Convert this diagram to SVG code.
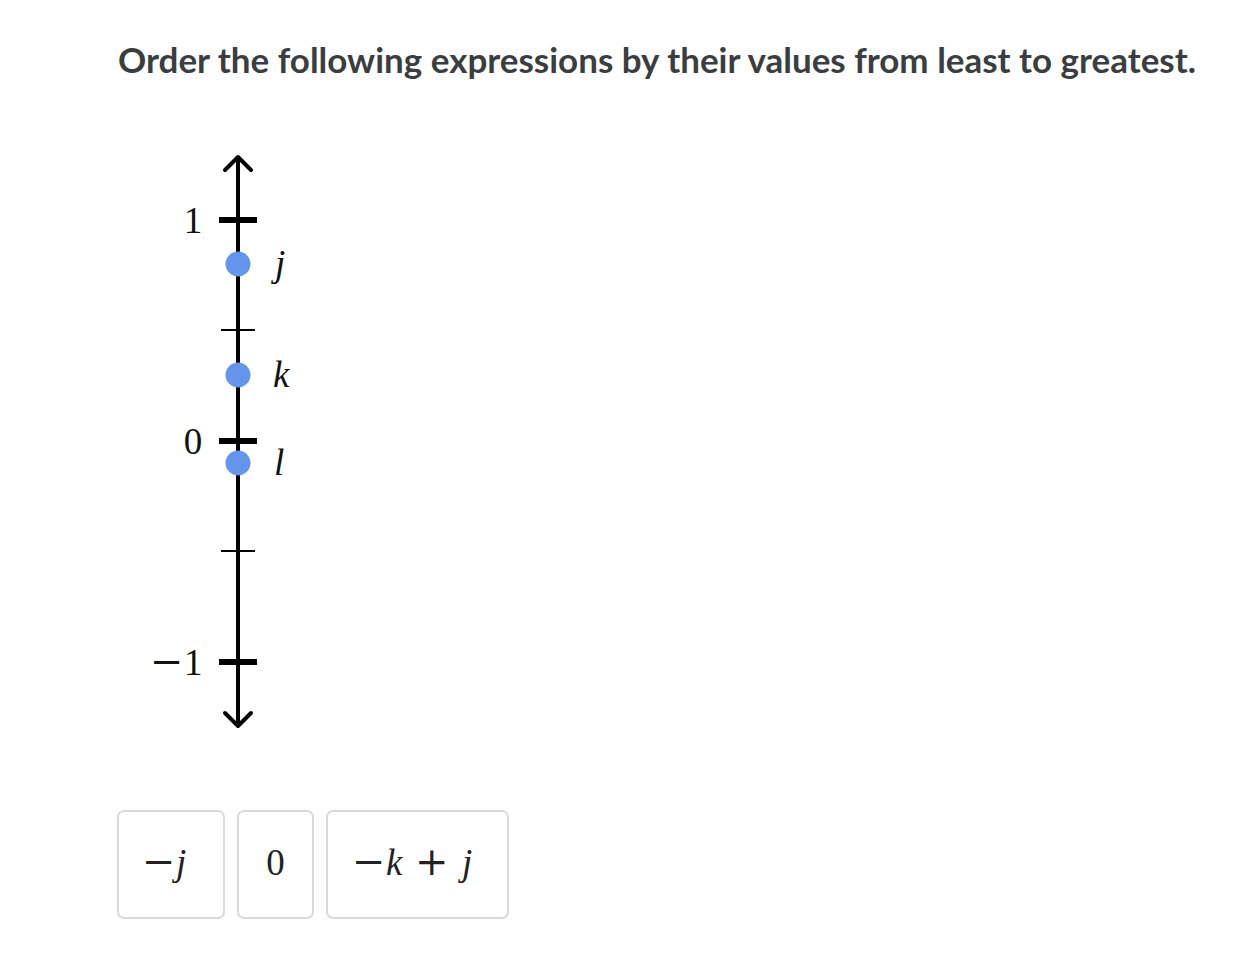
<svg xmlns="http://www.w3.org/2000/svg" width="1250" height="960" viewBox="0 0 1250 960">
<style>
.title{font-family:Lato,"Liberation Sans",sans-serif;font-weight:bold;font-size:34px;fill:#3b3e40}
.m{font-family:"Liberation Serif","DejaVu Serif",serif;font-size:37px;fill:#111}
.mi{font-family:"Liberation Serif","DejaVu Serif",serif;font-style:italic;font-size:37px;fill:#111}
.bt{font-family:"Liberation Serif","DejaVu Serif",serif;font-size:37px;fill:#222}
.mn{font-family:"DejaVu Serif",serif;font-size:40px}
.card{fill:#fff;stroke:#dadada;stroke-width:2}
.pt{fill:#6495ed}
</style>
<rect width="1250" height="960" fill="#fff"/>
<text class="title" x="118" y="73" textLength="1078" lengthAdjust="spacingAndGlyphs">Order the following expressions by their values from least to greatest.</text>
<g id="numberline">
<line x1="238" y1="157" x2="238" y2="726" stroke="#000" stroke-width="4"/>
<polyline points="225,170 238,157 251,170" fill="none" stroke="#000" stroke-width="4" stroke-linecap="round" stroke-linejoin="round"/>
<polyline points="225,713 238,726 251,713" fill="none" stroke="#000" stroke-width="4" stroke-linecap="round" stroke-linejoin="round"/>
<line x1="219" y1="220" x2="257" y2="220" stroke="#000" stroke-width="6"/>
<line x1="219" y1="441" x2="257" y2="441" stroke="#000" stroke-width="6"/>
<line x1="219" y1="662" x2="257" y2="662" stroke="#000" stroke-width="6"/>
<line x1="221" y1="330" x2="255" y2="330" stroke="#000" stroke-width="2"/>
<line x1="221" y1="551" x2="255" y2="551" stroke="#000" stroke-width="2"/>
<text class="m" x="193" y="233" text-anchor="middle">1</text>
<text class="m" x="193" y="454" text-anchor="middle">0</text>
<text class="m" y="675"><tspan class="mn" x="150">−</tspan><tspan x="184">1</tspan></text>
</g>
<g id="point-j"><circle class="pt" cx="238" cy="264" r="12.5"/><text class="mi" x="275" y="276">j</text></g>
<g id="point-k"><circle class="pt" cx="238" cy="375" r="12.5"/><text class="mi" x="273" y="387">k</text></g>
<g id="point-l"><circle class="pt" cx="238" cy="463" r="12.5"/><text class="mi" x="274" y="475">l</text></g>
<g id="card-neg-j"><rect class="card" x="118" y="811" width="106" height="107" rx="6"/><text class="bt" y="875"><tspan class="mn" x="142">−</tspan><tspan x="176" font-style="italic">j</tspan></text></g>
<g id="card-zero"><rect class="card" x="238" y="811" width="75" height="107" rx="6"/><text class="bt" x="275.5" y="875" text-anchor="middle">0</text></g>
<g id="card-neg-k-plus-j"><rect class="card" x="327" y="811" width="181" height="107" rx="6"/><text class="bt" y="875"><tspan class="mn" x="352">−</tspan><tspan x="386" font-style="italic">k</tspan><tspan class="mn" x="415">+</tspan><tspan x="462" font-style="italic">j</tspan></text></g>
</svg>
